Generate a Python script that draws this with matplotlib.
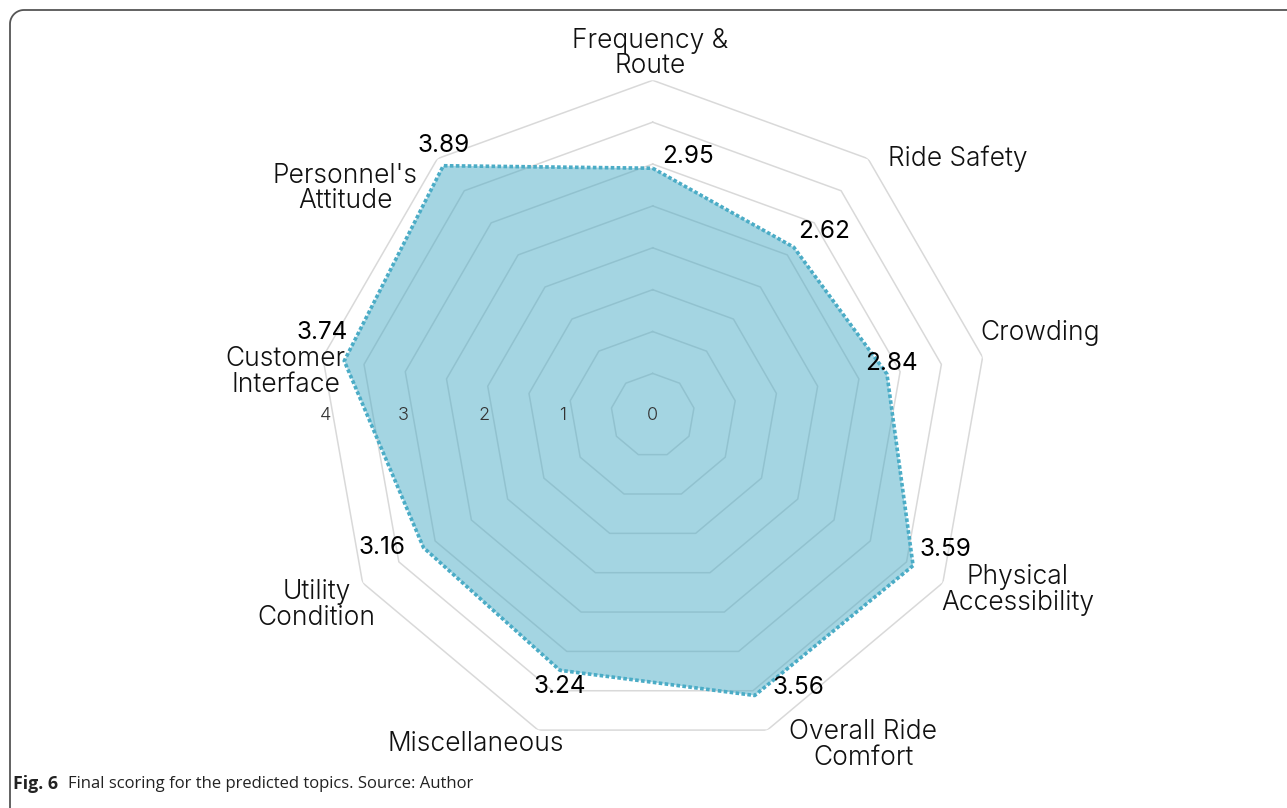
import numpy as np
import matplotlib
matplotlib.use("Agg")
import matplotlib.pyplot as plt
from matplotlib.lines import Line2D

# data
categories = ["Frequency &\nRoute", "Ride Safety", "Crowding",
              "Physical\nAccessibility", "Overall Ride\nComfort",
              "Miscellaneous", "Utility\nCondition", "Customer\nInterface",
              "Personnel's\nAttitude"]
scores = [2.95, 2.62, 2.84, 3.59, 3.56, 3.24, 3.16, 3.74, 3.89]
score_labels = ["2.95", "2.62", "2.84", "3.59", "3.56", "3.24", "3.16", "3.74", "3.89"]
ring_levels = [0.5, 1.0, 1.5, 2.0, 2.5, 3.0, 3.5, 4.0]
tick_values = [0, 1, 2, 3, 4]

# label offsets in pixels (x right, y up)
cat_offsets = [(-3, 27), (90, 0), (58, 24), (75, -7), (96, -15),
               (-62, -14), (-46, -22), (-37, -15), (-92, -30)]
val_offsets = [(35, 12), (30, 16), (5, 10), (32, 16), (44, 8),
               (0, -16), (-42, 0), (-22, 28), (0, 20)]
tick_offsets = [(0, 0), (-6, 0), (-1, 0), (2, 0), (8, 0)]

ACCENT = "#4BACC6"
W, H = 1287, 808
font = "Inter"

fig = plt.figure(figsize=(W / 100, H / 100), dpi=100)
fig.patch.set_facecolor("white")

cx, cy, rad = 652.7, 415.3, 335.0
ax = fig.add_axes([(cx - rad) / W, (H - cy - rad) / H, 2 * rad / W, 2 * rad / H],
                  projection="polar")
ax.set_theta_zero_location("N")
ax.set_theta_direction(-1)
ax.set_ylim(0, 4)
ax.grid(False)
ax.spines["polar"].set_visible(False)
ax.set_xticks([])
ax.set_yticks([])
ax.patch.set_alpha(0)

n = len(categories)
theta = np.arange(n) * 2 * np.pi / n
theta_closed = np.append(theta, theta[0])

for lvl in ring_levels:
    ax.plot(theta_closed, [lvl] * (n + 1), color="#D9D9D9", lw=1.1, zorder=1)

vals = np.append(scores, scores[0])
ax.fill(theta_closed, vals, color=ACCENT, alpha=0.5, lw=0, zorder=2)
ax.plot(theta_closed, vals, color=ACCENT, lw=2.6, linestyle=(0, (1, 0.65)),
        dash_capstyle="butt", zorder=3)

for t, lab, off in zip(theta, categories, cat_offsets):
    ax.annotate(lab, (t, 4), xytext=off, textcoords="offset pixels",
                ha="center", va="center", fontsize=19, family=font,
                fontweight=300, color="#111111", linespacing=0.97,
                annotation_clip=False)

for t, v, lab, off in zip(theta, scores, score_labels, val_offsets):
    ax.annotate(lab, (t, v), xytext=off, textcoords="offset pixels",
                ha="center", va="center", fontsize=17.5, family=font,
                fontweight=400, color="black", annotation_clip=False)

for tv, off in zip(tick_values, tick_offsets):
    ax.annotate(str(tv), (np.deg2rad(270), tv), xytext=off,
                textcoords="offset pixels", ha="center", va="center",
                fontsize=13, family=font, fontweight=300,
                color="#333333", zorder=4)

# rounded frame on the left and top
r = 14
arc = np.linspace(np.pi, np.pi / 2, 20)
xs = np.concatenate([[10, 10], 10 + r + r * np.cos(arc), [W]])
ys = np.concatenate([[812, 10 + r], 10 + r - r * np.sin(arc), [10]])
fig.add_artist(Line2D(xs / W, 1 - ys / H, color="#555555", lw=1.3,
                      transform=fig.transFigure))

fig.text(13 / W, 1 - 784 / H, "Fig. 6", fontsize=12.8, fontweight="bold",
         family="Open Sans", color="#222222", va="center")
fig.text(68 / W, 1 - 784 / H, "Final scoring for the predicted topics. Source: Author",
         fontsize=12.0, family="Open Sans", color="#222222", va="center")

fig.savefig("out.png", dpi=100)
